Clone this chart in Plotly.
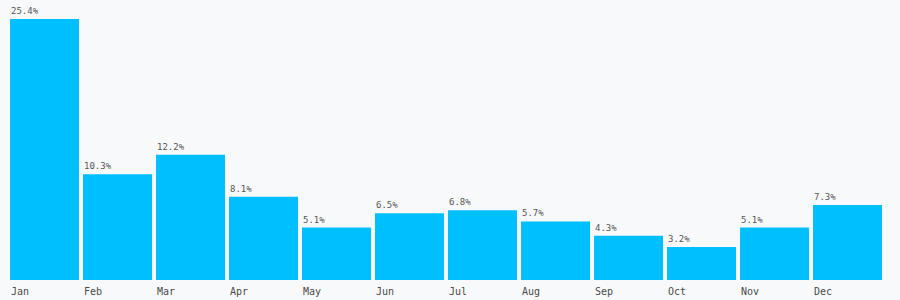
import plotly.graph_objects as go

months = ["Jan", "Feb", "Mar", "Apr", "May", "Jun", "Jul", "Aug", "Sep", "Oct", "Nov", "Dec"]
shares = [25.4, 10.3, 12.2, 8.1, 5.1, 6.5, 6.8, 5.7, 4.3, 3.2, 5.1, 7.3]
value_labels = ["25.4%", "10.3%", "12.2%", "8.1%", "5.1%", "6.5%", "6.8%", "5.7%", "4.3%", "3.2%", "5.1%", "7.3%"]

W, H = 900, 300
ml, mr, mt, mb = 8, 16, 19, 20
plot_w = W - ml - mr
slot = plot_w / len(months)
gap = 0.055
half_bar = slot * (1 - gap) / 2

font = "DejaVu Sans Mono, monospace"

fig = go.Figure(go.Bar(
    x=months, y=shares,
    marker=dict(color="#00bfff", line=dict(width=0)),
    hoverinfo="x+y",
))

ann = []
for m, v, t in zip(months, shares, value_labels):
    ann.append(dict(x=m, y=v, text=t, showarrow=False, xanchor="left", yanchor="bottom",
                    xshift=-half_bar - 1, yshift=1, font=dict(family=font, size=9, color="#555555")))
    ann.append(dict(x=m, y=0, yref="paper", text=m, showarrow=False, xanchor="left", yanchor="top",
                    xshift=-half_bar - 1, yshift=-4, font=dict(family=font, size=10, color="#4a4a4a")))

fig.update_layout(
    width=W, height=H,
    margin=dict(l=ml, r=mr, t=mt, b=mb),
    paper_bgcolor="#f8f9fb", plot_bgcolor="#f8f9fb",
    bargap=gap,
    showlegend=False,
    xaxis=dict(showticklabels=False, showgrid=False, zeroline=False, ticks=""),
    yaxis=dict(range=[0, 25.4], visible=False, showgrid=False, zeroline=False),
    annotations=ann,
    font=dict(family=font),
)

fig.write_html("out.html")
